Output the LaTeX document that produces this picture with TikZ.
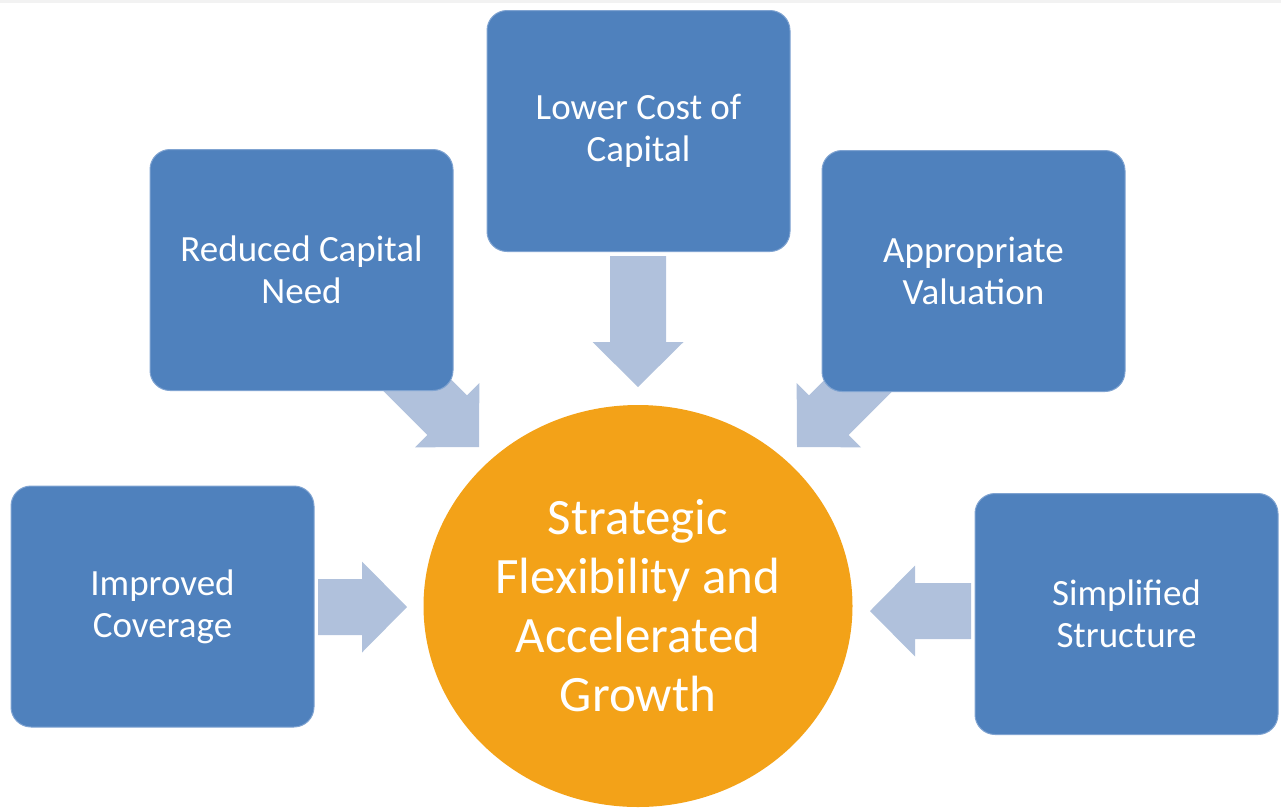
\documentclass[tikz,border=0pt]{standalone}
\usepackage{fontspec}
\setmainfont{Carlito}
\usetikzlibrary{shapes.geometric}
\definecolor{boxblue}{HTML}{4F81BD}
\definecolor{arrowblue}{HTML}{B0C1DC}
\definecolor{hubfill}{HTML}{F3A218}
\definecolor{boxedge}{HTML}{7FA3D1}
\tikzset{
  box/.style={rectangle, rounded corners=20pt, fill=boxblue, draw=boxedge, line width=1pt,
    minimum width=303pt, minimum height=241pt, text=white, align=center,
    font=\fontsize{37}{42}\selectfont, inner sep=0pt},
  hub/.style={ellipse, fill=hubfill, minimum width=429pt, minimum height=402pt,
    text=white, align=center, font=\fontsize{51}{59}\selectfont, inner sep=0pt},
  blockarrow/.style={fill=arrowblue},
}
\newcommand{\blockarrowat}[3]{%
  \fill[blockarrow, shift={(#1)}, rotate=#2]
    (0,0) -- (-45,45.5) -- (-45,28) -- (-#3,28) -- (-#3,-28) -- (-45,-28) -- (-45,-45.5) -- cycle;}
\begin{document}
\begin{tikzpicture}[x=1pt,y=-1pt]
\useasboundingbox (0,0) rectangle (1281,809);
\fill[black!5] (0,0) rectangle (1281,3);
% arrow tips
\coordinate (tipT) at (638,387);
\coordinate (tipL) at (479,447);
\coordinate (tipR) at (797,447);
\coordinate (tipW) at (407,607);
\coordinate (tipE) at (870,611);
% diagonal arrows under the boxes
\blockarrowat{tipL}{-45}{131}
\blockarrowat{tipR}{-135}{131}
% boxes
\node[box] (lcc) at (638.5,131) {Lower Cost of\\Capital};
\node[box] (rcn) at (301.5,270) {Reduced Capital\\Need};
\node[box] (av) at (973.5,271) {Appropriate\\Valuation};
\node[box] (ic) at (162.5,606.5) {Improved\\Coverage};
\node[box] (ss) at (1126.5,614) {Simplified\\Structure};
% other arrows
\blockarrowat{tipT}{-90}{131}
\blockarrowat{tipW}{0}{89}
\blockarrowat{tipE}{180}{101}
% hub
\node[hub] (hub) at (638,606) {Strategic\\Flexibility and\\Accelerated\\Growth};
\end{tikzpicture}
\end{document}
